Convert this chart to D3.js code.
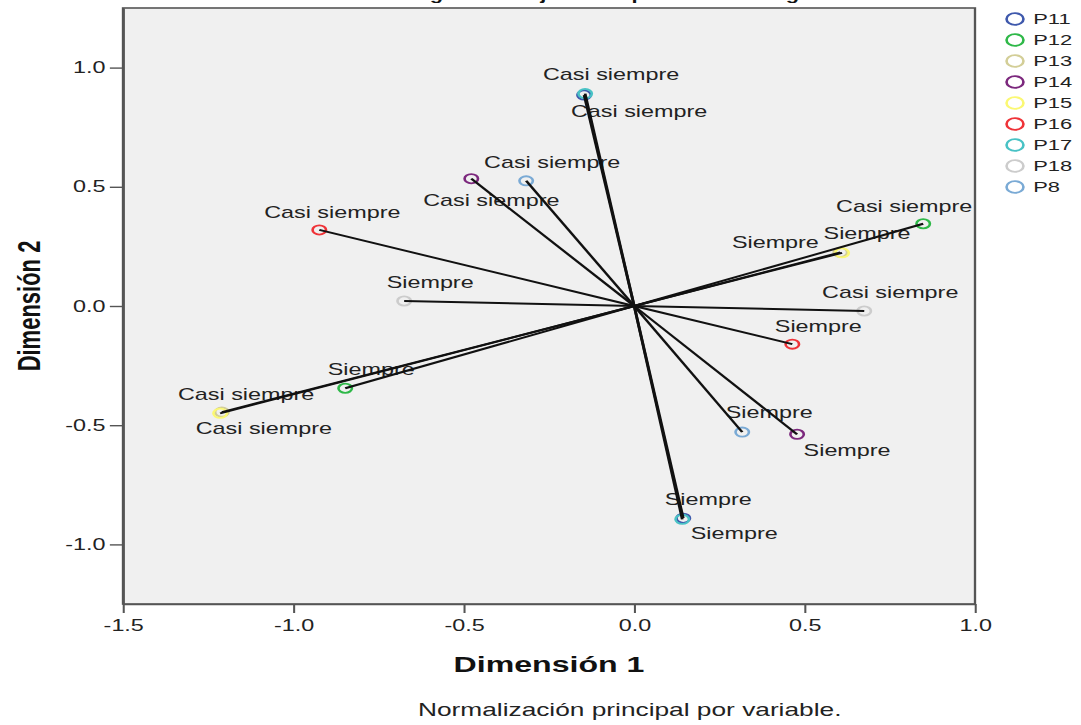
<!DOCTYPE html>
<html>
<head>
<meta charset="utf-8">
<script src="https://cdn.jsdelivr.net/npm/d3@7"></script>
<style>
  html, body { margin: 0; padding: 0; background: #ffffff; }
  svg { display: block; }
  text { font-family: "Liberation Sans", Arial, sans-serif; }
</style>
</head>
<body>
<div id="chart"></div>
<script>
// Category quantifications (joint plot of category points)
const variables = ["P11", "P12", "P13", "P14", "P15", "P16", "P17", "P18", "P8"];
const categories = ["Casi siempre", "Siempre"];
const casiDim1 = [-0.147, 0.848, -1.210, -0.478, -1.215, -0.924, -0.144, 0.675, -0.317];
const casiDim2 = [0.885, 0.345, -0.445, 0.534, -0.450, 0.319, 0.891, -0.021, 0.525];
const siempreDim1 = [0.144, -0.848, 0.605, 0.478, 0.610, 0.464, 0.141, -0.675, 0.317];
const siempreDim2 = [-0.890, -0.345, 0.225, -0.538, 0.223, -0.160, -0.895, 0.021, -0.529];
const xTicks = [-1.5, -1.0, -0.5, 0.0, 0.5, 1.0];
const yTicks = [-1.0, -0.5, 0.0, 0.5, 1.0];
const colors = ["#3E58AC", "#2EB848", "#D3CE97", "#7C287D", "#FBF873", "#EF3338", "#48C2C5", "#CCCCCC", "#7AAAD5"];

// Drawing is done in a narrower coordinate space and stretched horizontally
const SX = 1.46;
const PAGE_W = 1081, PAGE_H = 725;
const W = PAGE_W / SX, H = PAGE_H;

// Label placement (screen px relative to the point: centre x, baseline y)
const defaultOffset = [26, -13];
const labelOffsets = {
  "P11|Casi siempre": [55, 22], "P17|Casi siempre": [26, -14],
  "P11|Siempre": [51, 21], "P17|Siempre": [26, -14],
  "P14|Casi siempre": [20, 27], "P14|Siempre": [50, 22],
  "P8|Siempre": [27, -14],
  "P16|Casi siempre": [13, -12], "P16|Siempre": [26, -12],
  "P12|Casi siempre": [-19, -12],
  "P13|Casi siempre": [42, 22],
  "P15|Siempre": [25, -14], "P13|Siempre": [-65, -4]
};

const points = [];
variables.forEach((v, i) => {
  points.push({ variable: v, idx: i, category: categories[0], d1: casiDim1[i], d2: casiDim2[i] });
  points.push({ variable: v, idx: i, category: categories[1], d1: siempreDim1[i], d2: siempreDim2[i] });
});

const plot = { left: 123 / SX, right: 975 / SX, top: 8, bottom: 604 };

const svg = d3.select("#chart").append("svg")
  .attr("width", PAGE_W).attr("height", PAGE_H)
  .attr("viewBox", `0 0 ${W} ${H}`)
  .attr("preserveAspectRatio", "none");

const x = d3.scaleLinear().domain([-1.5, 1.0]).range([plot.left, plot.right]);
const y = d3.scaleLinear().domain([-1.25, 1.25]).range([plot.bottom, plot.top]);

// Title (sits at the very top edge)
svg.append("text")
  .attr("x", 271).attr("y", -0.5)
  .attr("font-size", 15).attr("font-weight", "bold").attr("fill", "#111")
  .text("Diagrama conjunto de puntos de categoría");

// Plot background and frame
svg.append("rect")
  .attr("x", plot.left).attr("y", plot.top)
  .attr("width", plot.right - plot.left).attr("height", plot.bottom - plot.top)
  .attr("fill", "#F0F0F0").attr("stroke", "#555").attr("stroke-width", 1.6);

// Axes
const fmt = d => d.toFixed(1);
const xAxis = svg.append("g").attr("transform", `translate(0,${plot.bottom})`)
  .call(d3.axisBottom(x).tickValues(xTicks).tickFormat(fmt).tickSize(9).tickSizeOuter(0).tickPadding(7));
const yAxis = svg.append("g").attr("transform", `translate(${plot.left},0)`)
  .call(d3.axisLeft(y).tickValues(yTicks).tickFormat(fmt).tickSize(9).tickSizeOuter(0).tickPadding(3));
[xAxis, yAxis].forEach(a => {
  a.select(".domain").attr("stroke", "#555").attr("stroke-width", 1.6);
  a.selectAll(".tick line").attr("stroke", "#555").attr("stroke-width", 1.4);
  a.selectAll(".tick text").attr("font-size", 16).attr("fill", "#222")
    .attr("font-family", "\"Liberation Sans\", Arial, sans-serif");
});

// Axis titles
svg.append("text")
  .attr("x", (plot.left + plot.right) / 2).attr("y", 672)
  .attr("text-anchor", "middle").attr("font-size", 22).attr("font-weight", "bold").attr("fill", "#111")
  .text("Dimensión 1");
svg.append("text")
  .attr("transform", `translate(27.5,${(plot.top + plot.bottom) / 2}) rotate(-90)`)
  .attr("text-anchor", "middle").attr("font-size", 22).attr("font-weight", "bold").attr("fill", "#111")
  .text("Dimensión 2");

// Footnote
svg.append("text")
  .attr("x", 418 / SX).attr("y", 716)
  .attr("font-size", 18).attr("fill", "#222")
  .text("Normalización principal por variable.");

// Category labels
const g = svg.append("g");
g.selectAll("text.lbl").data(points).join("text")
  .attr("class", "lbl")
  .attr("x", d => x(d.d1) + (labelOffsets[d.variable + "|" + d.category] || defaultOffset)[0] / SX)
  .attr("y", d => y(d.d2) + (labelOffsets[d.variable + "|" + d.category] || defaultOffset)[1])
  .attr("text-anchor", "middle").attr("font-size", 16).attr("fill", "#222")
  .text(d => d.category);

// Category point markers
g.selectAll("circle.pt").data(points).join("circle")
  .attr("class", "pt")
  .attr("cx", d => x(d.d1)).attr("cy", d => y(d.d2)).attr("r", 4.6)
  .attr("fill", "none").attr("stroke", d => colors[d.idx]).attr("stroke-width", 1.8);

// Vectors from the origin to each category point
g.selectAll("line.vec").data(points).join("line")
  .attr("class", "vec")
  .attr("x1", x(0)).attr("y1", y(0))
  .attr("x2", d => x(d.d1)).attr("y2", d => y(d.d2))
  .attr("stroke", "#111").attr("stroke-width", 1.9);

// Legend
const legend = svg.append("g");
const legRows = legend.selectAll("g").data(variables).join("g")
  .attr("transform", (d, i) => `translate(${1015 / SX},${19 + i * 21})`);
legRows.append("circle").attr("r", 5.8).attr("fill", "none")
  .attr("stroke", (d, i) => colors[i]).attr("stroke-width", 1.8);
legRows.append("text").attr("x", 12.5).attr("y", 5.3)
  .attr("font-size", 15).attr("fill", "#222").text(d => d);
</script>
</body>
</html>
